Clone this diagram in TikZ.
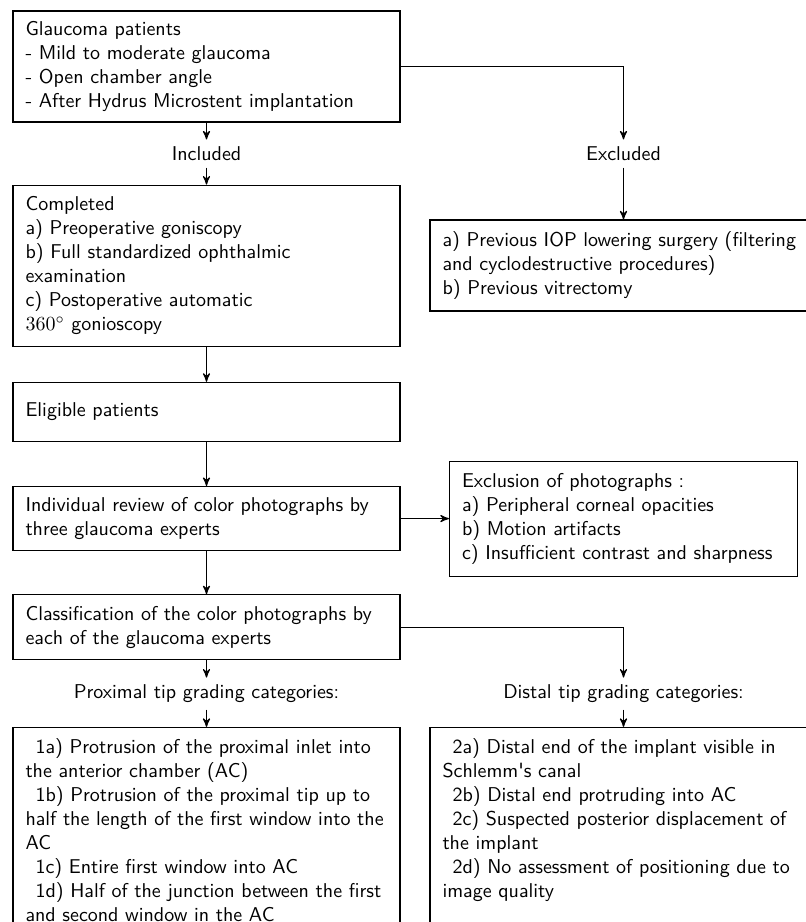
\documentclass[tikz,border=0pt]{standalone}
\usepackage{tikz}
\usetikzlibrary{calc,positioning,arrows}
\tikzset{
  >=stealth',
  stagebox/.style={
    rectangle,
    draw=black, line width=0.6pt,
    text width=181pt,
    inner xsep=6.25pt, inner ysep=4pt,
    align=left,
    font=\sffamily},
  cutbox/.style={
    stagebox,
    inner ysep=5.5pt,
    text depth=150pt},
  photobox/.style={stagebox, text width=161.5pt},
  tag/.style={font=\sffamily},
  link/.style={draw, line width=0.6pt, ->},
}
\newcommand{\catindent}{\hspace*{5pt}}

\begin{document}
\begin{tikzpicture}[x=0.5pt, y=-0.5pt]
  \useasboundingbox (0,0) rectangle (806,922);
  \clip (0,0) rectangle (806,922);
  % left column
  \node[stagebox, minimum height=55.5pt] (patients) at (206.5,66.5)
    {Glaucoma patients\\
     - Mild to moderate glaucoma\\
     - Open chamber angle\\
     - After Hydrus Microstent implantation};
  \node[stagebox, minimum height=80.5pt, below=31pt of patients] (completed)
    {Completed\\
     a) Preoperative goniscopy\\
     b) Full standardized ophthalmic\\
     examination\\
     c) Postoperative automatic\\
     $360^\circ$ gonioscopy};
  \node[tag] (included) at ($(patients.south)!.5!(completed.north)$) {Included};
  \node[stagebox, minimum height=29.5pt, below=17.5pt of completed] (eligible)
    {Eligible patients};
  \node[stagebox, minimum height=32pt, below=22pt of eligible] (review)
    {Individual review of color photographs by\\
     three glaucoma experts};
  \node[stagebox, minimum height=32.5pt, below=21.5pt of review] (classif)
    {Classification of the color photographs by\\
     each of the glaucoma experts};
  \node[cutbox, below=33.25pt of classif] (proximal)
    {\catindent 1a) Protrusion of the proximal inlet into\\
     the anterior chamber (AC)\\
     \catindent 1b) Protrusion of the proximal tip up to\\
     half the length of the first window into the\\
     AC\\
     \catindent 1c) Entire first window into AC\\
     \catindent 1d) Half of the junction between the first\\
     and second window in the AC};
  \node[tag] (proxtag) at ($(classif.south)!.5!(proximal.north)$)
    {Proximal tip grading categories:};
  % right column
  \node[stagebox, minimum height=45.5pt] (excluded) at (623.5,265.5)
    {a) Previous IOP lowering surgery (filtering\\
     and cyclodestructive procedures)\\
     b) Previous vitrectomy};
  \node[tag] (exctag) at (included -| excluded) {Excluded};
  \node[photobox, minimum height=57.5pt] (photos) at (review -| excluded)
    {Exclusion of photographs :\\
     a) Peripheral corneal opacities\\
     b) Motion artifacts\\
     c) Insufficient contrast and sharpness};
  \node[cutbox, anchor=north] (distal) at (proximal.north -| excluded)
    {\catindent 2a) Distal end of the implant visible in\\
     Schlemm\textquotesingle s canal\\
     \catindent 2b) Distal end protruding into AC\\
     \catindent 2c) Suspected posterior displacement of\\
     the implant\\
     \catindent 2d) No assessment of positioning due to\\
     image quality};
  \node[tag] (disttag) at (proxtag -| distal) {Distal tip grading categories:};
  % connectors
  \path[link] (patients) -- (included);
  \path[link] (included) -- (completed);
  \path[link] (patients.east) -| (exctag.north);
  \path[link] (exctag) -- (excluded);
  \path[link] (completed) -- (eligible);
  \path[link] (eligible) -- (review);
  \path[link] (review.east) -- (review.east -| photos.west);
  \path[link] (review) -- (classif);
  \path[link] (classif) -- (proxtag);
  \path[link] (proxtag) -- (proximal);
  \path[link] (classif.east) -| (disttag.north);
  \path[link] (disttag) -- (distal);
\end{tikzpicture}
\end{document}
